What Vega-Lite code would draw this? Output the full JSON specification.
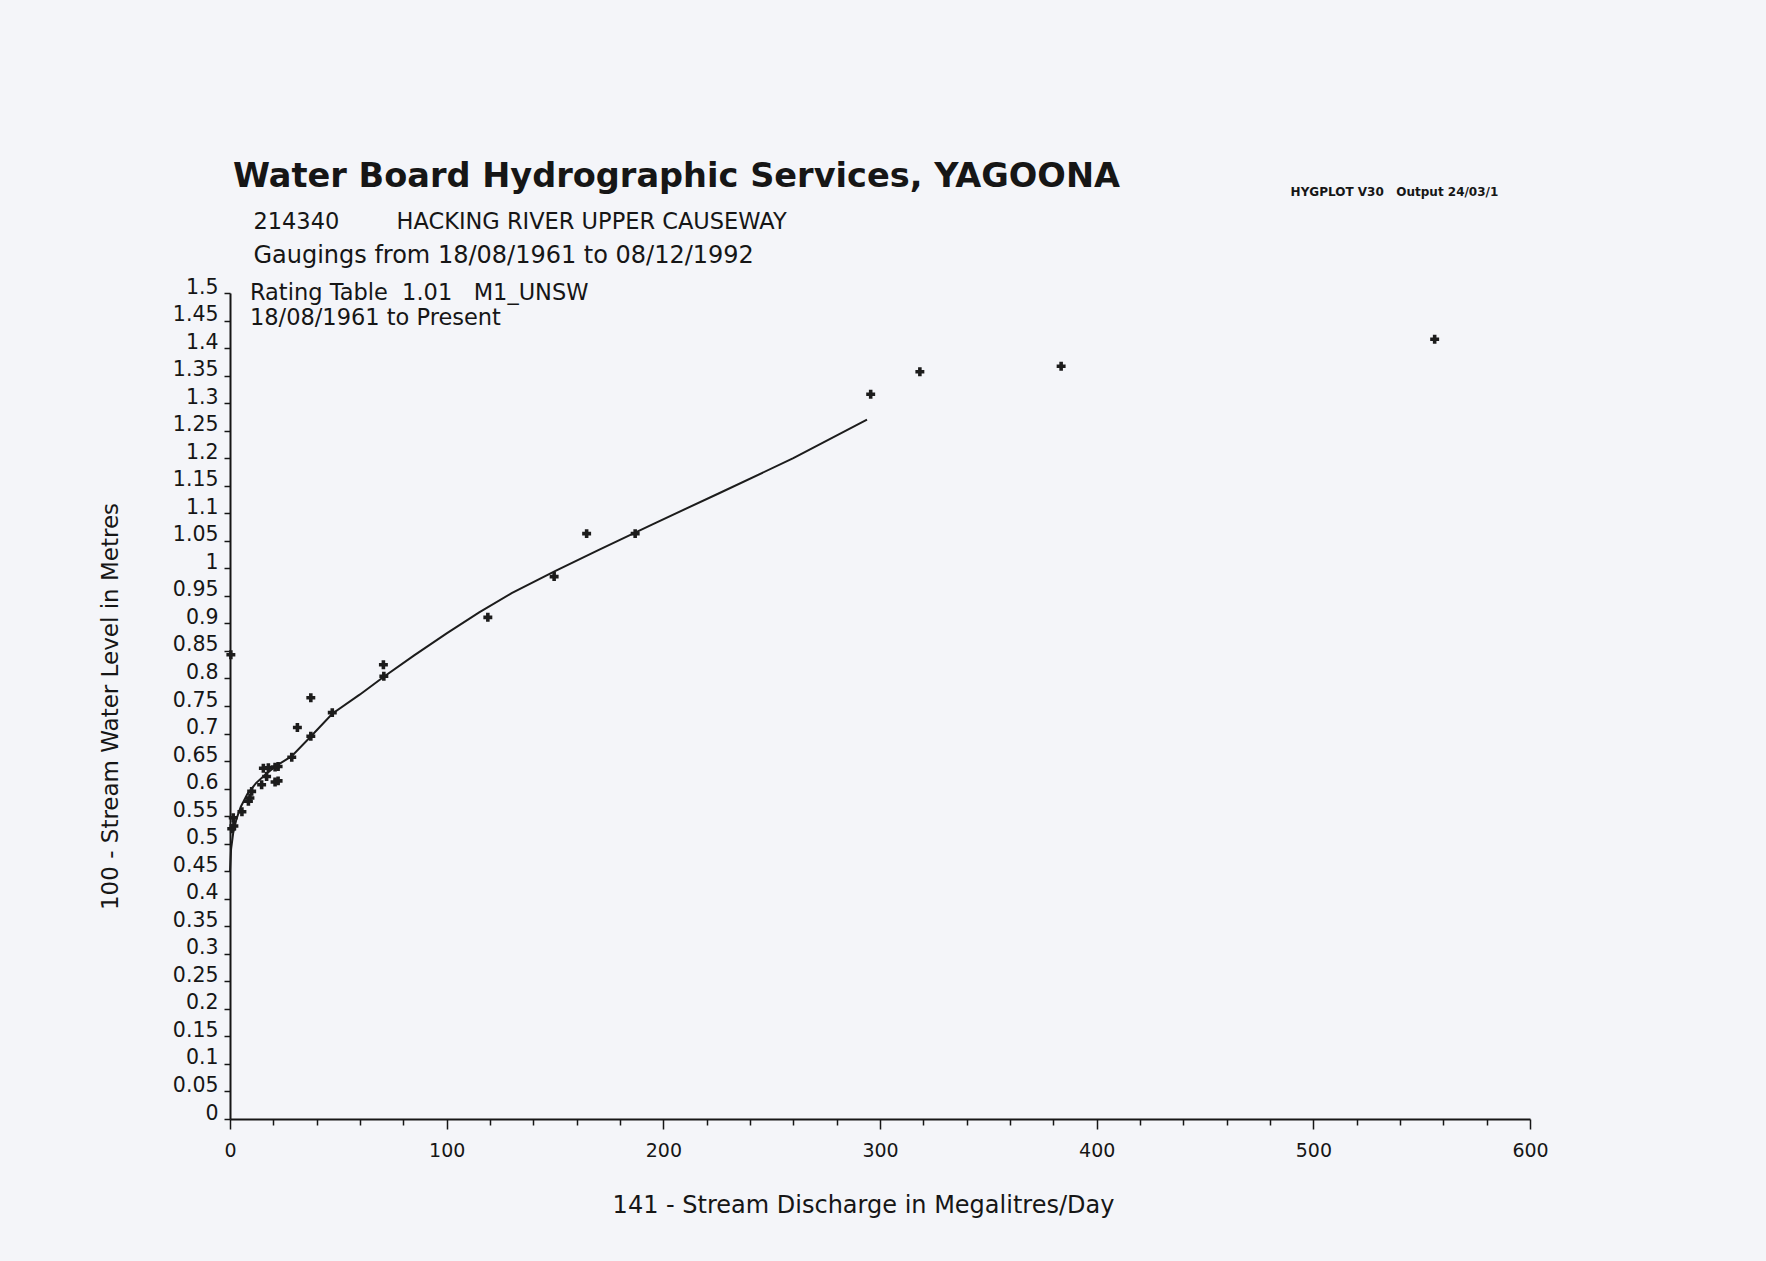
{
  "$schema": "https://vega.github.io/schema/vega-lite/v6.json",
  "width": 1300,
  "height": 826,
  "autosize": {"type": "none"},
  "padding": {"left": 230, "top": 293, "right": 236, "bottom": 142},
  "background": "#f4f5f9",
  "config": {
    "view": {"stroke": null},
    "font": "DejaVu Sans",
    "axis": {
      "labelOverlap": false,
      "labelFlush": false,
      "grid": false,
      "labelFont": "DejaVu Sans",
      "labelColor": "#161616",
      "titleFont": "DejaVu Sans",
      "titleFontWeight": "normal",
      "titleColor": "#161616",
      "tickWidth": 1.5,
      "tickColor": "#161616",
      "domainWidth": 2,
      "domainColor": "#161616"
    },
    "axisX": {"labelFontSize": 19, "labelPadding": 12, "titleFontSize": 24, "titlePadding": 33, "titleX": 633, "titleAlign": "center"},
    "axisY": {"labelFontSize": 20.5, "labelOffset": -6, "labelPadding": 6, "labelSeparation": 0, "tickSize": 6, "titleFontSize": 23, "titlePadding": 50}
  },
  "title": {
    "text": "Water Board Hydrographic Services, YAGOONA",
    "anchor": "start",
    "frame": "group",
    "baseline": "bottom",
    "dx": 3,
    "font": "DejaVu Sans",
    "fontSize": 33.6,
    "fontWeight": "bold",
    "color": "#161616",
    "offset": -42
  },
  "datasets": {
    "curve": [
      {"discharge": 0, "level": 0.45},
      {"discharge": 0.5, "level": 0.49},
      {"discharge": 1.5, "level": 0.52},
      {"discharge": 3, "level": 0.545},
      {"discharge": 5, "level": 0.567},
      {"discharge": 8, "level": 0.59},
      {"discharge": 12, "level": 0.61},
      {"discharge": 17, "level": 0.628},
      {"discharge": 22, "level": 0.643},
      {"discharge": 28.5, "level": 0.659},
      {"discharge": 37.4, "level": 0.695},
      {"discharge": 47.2, "level": 0.736},
      {"discharge": 60, "level": 0.771},
      {"discharge": 71, "level": 0.803},
      {"discharge": 85, "level": 0.842},
      {"discharge": 100, "level": 0.882},
      {"discharge": 115, "level": 0.92},
      {"discharge": 130, "level": 0.955},
      {"discharge": 150, "level": 0.995},
      {"discharge": 170, "level": 1.033},
      {"discharge": 195, "level": 1.08},
      {"discharge": 225, "level": 1.135},
      {"discharge": 260, "level": 1.2},
      {"discharge": 294, "level": 1.27}
    ],
    "gaugings": [
      {"discharge": 0.4, "level": 0.843},
      {"discharge": 1.5, "level": 0.547},
      {"discharge": 1.8, "level": 0.532},
      {"discharge": 0.8, "level": 0.527},
      {"discharge": 5.5, "level": 0.558},
      {"discharge": 8.5, "level": 0.577},
      {"discharge": 9.2, "level": 0.583},
      {"discharge": 10.0, "level": 0.595},
      {"discharge": 14.6, "level": 0.607},
      {"discharge": 16.9, "level": 0.622},
      {"discharge": 15.4, "level": 0.637},
      {"discharge": 17.7, "level": 0.638},
      {"discharge": 20.8, "level": 0.639},
      {"discharge": 22.2, "level": 0.64},
      {"discharge": 20.8, "level": 0.612},
      {"discharge": 22.2, "level": 0.614},
      {"discharge": 28.5, "level": 0.657},
      {"discharge": 31.1, "level": 0.711},
      {"discharge": 37.3, "level": 0.765},
      {"discharge": 37.3, "level": 0.695},
      {"discharge": 47.2, "level": 0.738},
      {"discharge": 70.8, "level": 0.825},
      {"discharge": 71.0, "level": 0.804},
      {"discharge": 119.0, "level": 0.911},
      {"discharge": 149.6, "level": 0.985},
      {"discharge": 164.6, "level": 1.063},
      {"discharge": 187.0, "level": 1.063},
      {"discharge": 295.7, "level": 1.316},
      {"discharge": 318.4, "level": 1.357},
      {"discharge": 383.6, "level": 1.367},
      {"discharge": 556.0, "level": 1.416}
    ]
  },
  "layer": [
    {
      "data": {"name": "curve"},
      "mark": {"type": "line", "color": "#1c1c1c", "strokeWidth": 2},
      "encoding": {
        "x": {"field": "discharge", "type": "quantitative", "scale": {"domain": [0, 600], "nice": false, "zero": true},
          "axis": {"values": [0, 20, 40, 60, 80, 100, 120, 140, 160, 180, 200, 220, 240, 260, 280, 300, 320, 340, 360, 380, 400, 420, 440, 460, 480, 500, 520, 540, 560, 580, 600], "labelExpr": "datum.value % 100 === 0 ? datum.label : ''", "tickSize": {"condition": {"test": "datum.value % 100 === 0", "value": 10}, "value": 6}, "title": "141 - Stream Discharge in Megalitres/Day"}},
        "y": {"field": "level", "type": "quantitative", "scale": {"domain": [0, 1.5], "nice": false},
          "axis": {"values": [0, 0.05, 0.1, 0.15, 0.2, 0.25, 0.3, 0.35, 0.4, 0.45, 0.5, 0.55, 0.6, 0.65, 0.7, 0.75, 0.8, 0.85, 0.9, 0.95, 1, 1.05, 1.1, 1.15, 1.2, 1.25, 1.3, 1.35, 1.4, 1.45, 1.5], "format": "~g", "title": "100 - Stream Water Level in Metres"}}
      }
    },
    {
      "data": {"name": "gaugings"},
      "mark": {"type": "point", "shape": "cross", "filled": true, "size": 80, "color": "#1c1c1c", "opacity": 1},
      "encoding": {
        "x": {"field": "discharge", "type": "quantitative", "scale": {"domain": [0, 600], "nice": false, "zero": true},
          "axis": {"values": [0, 20, 40, 60, 80, 100, 120, 140, 160, 180, 200, 220, 240, 260, 280, 300, 320, 340, 360, 380, 400, 420, 440, 460, 480, 500, 520, 540, 560, 580, 600], "labelExpr": "datum.value % 100 === 0 ? datum.label : ''", "tickSize": {"condition": {"test": "datum.value % 100 === 0", "value": 10}, "value": 6}, "title": "141 - Stream Discharge in Megalitres/Day"}},
        "y": {"field": "level", "type": "quantitative", "scale": {"domain": [0, 1.5], "nice": false},
          "axis": {"values": [0, 0.05, 0.1, 0.15, 0.2, 0.25, 0.3, 0.35, 0.4, 0.45, 0.5, 0.55, 0.6, 0.65, 0.7, 0.75, 0.8, 0.85, 0.9, 0.95, 1, 1.05, 1.1, 1.15, 1.2, 1.25, 1.3, 1.35, 1.4, 1.45, 1.5], "format": "~g", "title": "100 - Stream Water Level in Metres"}}
      }
    },
    {
      "data": {"values": [{"note": "214340\u00a0\u00a0\u00a0\u00a0\u00a0\u00a0\u00a0\u00a0HACKING RIVER UPPER CAUSEWAY"}]},
      "mark": {"type": "text", "align": "left", "baseline": "middle", "font": "DejaVu Sans", "fontSize": 22.5, "color": "#161616"},
      "encoding": {
        "x": {"datum": 10.8, "type": "quantitative", "scale": {"domain": [0, 600], "nice": false, "zero": true},
          "axis": {"values": [0, 20, 40, 60, 80, 100, 120, 140, 160, 180, 200, 220, 240, 260, 280, 300, 320, 340, 360, 380, 400, 420, 440, 460, 480, 500, 520, 540, 560, 580, 600], "labelExpr": "datum.value % 100 === 0 ? datum.label : ''", "tickSize": {"condition": {"test": "datum.value % 100 === 0", "value": 10}, "value": 6}, "title": "141 - Stream Discharge in Megalitres/Day"}},
        "y": {"datum": 1.629, "type": "quantitative", "scale": {"domain": [0, 1.5], "nice": false},
          "axis": {"values": [0, 0.05, 0.1, 0.15, 0.2, 0.25, 0.3, 0.35, 0.4, 0.45, 0.5, 0.55, 0.6, 0.65, 0.7, 0.75, 0.8, 0.85, 0.9, 0.95, 1, 1.05, 1.1, 1.15, 1.2, 1.25, 1.3, 1.35, 1.4, 1.45, 1.5], "format": "~g", "title": "100 - Stream Water Level in Metres"}},
        "text": {"field": "note", "type": "nominal"}
      }
    },
    {
      "data": {"values": [{"note": "Gaugings from 18/08/1961 to 08/12/1992"}]},
      "mark": {"type": "text", "align": "left", "baseline": "middle", "font": "DejaVu Sans", "fontSize": 24, "color": "#161616"},
      "encoding": {
        "x": {"datum": 10.8, "type": "quantitative", "scale": {"domain": [0, 600], "nice": false, "zero": true},
          "axis": {"values": [0, 20, 40, 60, 80, 100, 120, 140, 160, 180, 200, 220, 240, 260, 280, 300, 320, 340, 360, 380, 400, 420, 440, 460, 480, 500, 520, 540, 560, 580, 600], "labelExpr": "datum.value % 100 === 0 ? datum.label : ''", "tickSize": {"condition": {"test": "datum.value % 100 === 0", "value": 10}, "value": 6}, "title": "141 - Stream Discharge in Megalitres/Day"}},
        "y": {"datum": 1.568, "type": "quantitative", "scale": {"domain": [0, 1.5], "nice": false},
          "axis": {"values": [0, 0.05, 0.1, 0.15, 0.2, 0.25, 0.3, 0.35, 0.4, 0.45, 0.5, 0.55, 0.6, 0.65, 0.7, 0.75, 0.8, 0.85, 0.9, 0.95, 1, 1.05, 1.1, 1.15, 1.2, 1.25, 1.3, 1.35, 1.4, 1.45, 1.5], "format": "~g", "title": "100 - Stream Water Level in Metres"}},
        "text": {"field": "note", "type": "nominal"}
      }
    },
    {
      "data": {"values": [{"note": "Rating Table\u00a0\u00a01.01\u00a0\u00a0\u00a0M1_UNSW"}]},
      "mark": {"type": "text", "align": "left", "baseline": "middle", "font": "DejaVu Sans", "fontSize": 22.5, "color": "#161616"},
      "encoding": {
        "x": {"datum": 9.2, "type": "quantitative", "scale": {"domain": [0, 600], "nice": false, "zero": true},
          "axis": {"values": [0, 20, 40, 60, 80, 100, 120, 140, 160, 180, 200, 220, 240, 260, 280, 300, 320, 340, 360, 380, 400, 420, 440, 460, 480, 500, 520, 540, 560, 580, 600], "labelExpr": "datum.value % 100 === 0 ? datum.label : ''", "tickSize": {"condition": {"test": "datum.value % 100 === 0", "value": 10}, "value": 6}, "title": "141 - Stream Discharge in Megalitres/Day"}},
        "y": {"datum": 1.5, "type": "quantitative", "scale": {"domain": [0, 1.5], "nice": false},
          "axis": {"values": [0, 0.05, 0.1, 0.15, 0.2, 0.25, 0.3, 0.35, 0.4, 0.45, 0.5, 0.55, 0.6, 0.65, 0.7, 0.75, 0.8, 0.85, 0.9, 0.95, 1, 1.05, 1.1, 1.15, 1.2, 1.25, 1.3, 1.35, 1.4, 1.45, 1.5], "format": "~g", "title": "100 - Stream Water Level in Metres"}},
        "text": {"field": "note", "type": "nominal"}
      }
    },
    {
      "data": {"values": [{"note": "18/08/1961 to Present"}]},
      "mark": {"type": "text", "align": "left", "baseline": "middle", "font": "DejaVu Sans", "fontSize": 22.5, "color": "#161616"},
      "encoding": {
        "x": {"datum": 9.2, "type": "quantitative", "scale": {"domain": [0, 600], "nice": false, "zero": true},
          "axis": {"values": [0, 20, 40, 60, 80, 100, 120, 140, 160, 180, 200, 220, 240, 260, 280, 300, 320, 340, 360, 380, 400, 420, 440, 460, 480, 500, 520, 540, 560, 580, 600], "labelExpr": "datum.value % 100 === 0 ? datum.label : ''", "tickSize": {"condition": {"test": "datum.value % 100 === 0", "value": 10}, "value": 6}, "title": "141 - Stream Discharge in Megalitres/Day"}},
        "y": {"datum": 1.455, "type": "quantitative", "scale": {"domain": [0, 1.5], "nice": false},
          "axis": {"values": [0, 0.05, 0.1, 0.15, 0.2, 0.25, 0.3, 0.35, 0.4, 0.45, 0.5, 0.55, 0.6, 0.65, 0.7, 0.75, 0.8, 0.85, 0.9, 0.95, 1, 1.05, 1.1, 1.15, 1.2, 1.25, 1.3, 1.35, 1.4, 1.45, 1.5], "format": "~g", "title": "100 - Stream Water Level in Metres"}},
        "text": {"field": "note", "type": "nominal"}
      }
    },
    {
      "data": {"values": [{"note": "HYGPLOT V30\u00a0\u00a0\u00a0Output 24/03/1"}]},
      "mark": {"type": "text", "align": "left", "baseline": "middle", "font": "DejaVu Sans", "fontSize": 12, "fontWeight": "bold", "color": "#161616"},
      "encoding": {
        "x": {"datum": 489.5, "type": "quantitative", "scale": {"domain": [0, 600], "nice": false, "zero": true},
          "axis": {"values": [0, 20, 40, 60, 80, 100, 120, 140, 160, 180, 200, 220, 240, 260, 280, 300, 320, 340, 360, 380, 400, 420, 440, 460, 480, 500, 520, 540, 560, 580, 600], "labelExpr": "datum.value % 100 === 0 ? datum.label : ''", "tickSize": {"condition": {"test": "datum.value % 100 === 0", "value": 10}, "value": 6}, "title": "141 - Stream Discharge in Megalitres/Day"}},
        "y": {"datum": 1.684, "type": "quantitative", "scale": {"domain": [0, 1.5], "nice": false},
          "axis": {"values": [0, 0.05, 0.1, 0.15, 0.2, 0.25, 0.3, 0.35, 0.4, 0.45, 0.5, 0.55, 0.6, 0.65, 0.7, 0.75, 0.8, 0.85, 0.9, 0.95, 1, 1.05, 1.1, 1.15, 1.2, 1.25, 1.3, 1.35, 1.4, 1.45, 1.5], "format": "~g", "title": "100 - Stream Water Level in Metres"}},
        "text": {"field": "note", "type": "nominal"}
      }
    }
  ]
}
